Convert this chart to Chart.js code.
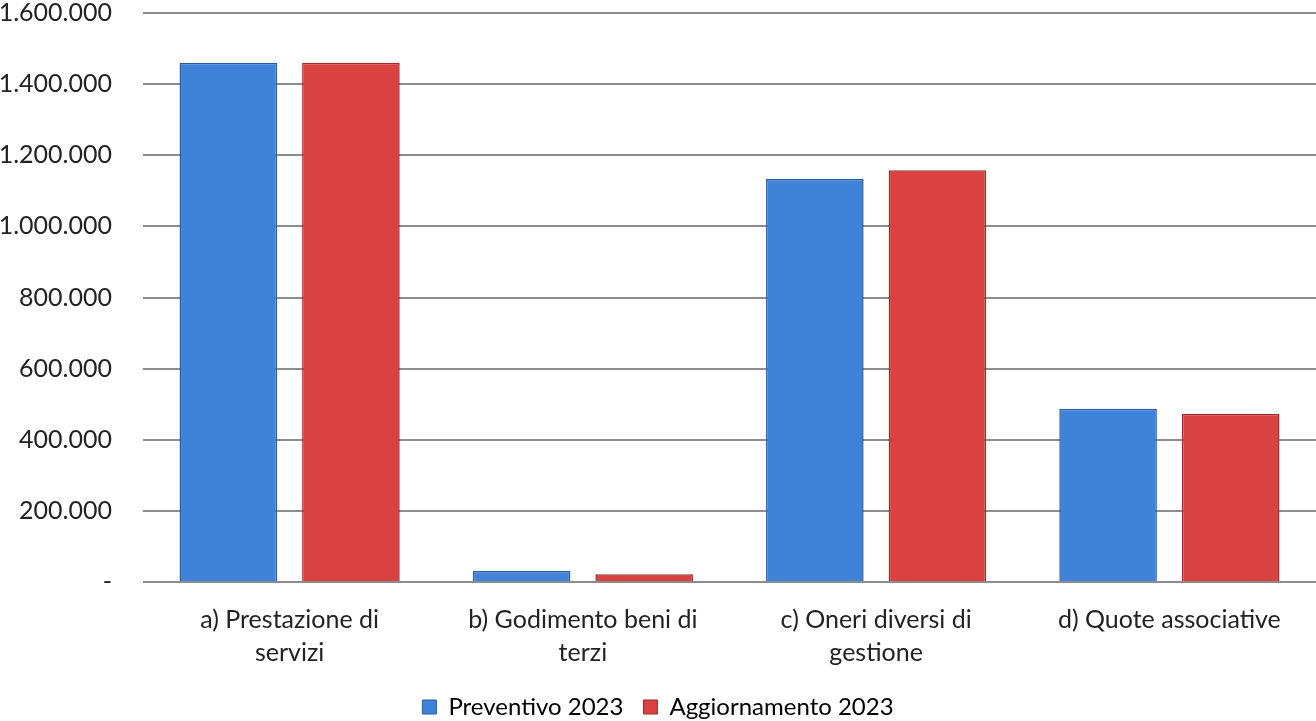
<!DOCTYPE html>
<html>
<head>
<meta charset="utf-8">
<script src="https://cdn.jsdelivr.net/npm/chart.js@4.4.0/dist/chart.umd.min.js"></script>
<style>
  html, body { margin: 0; padding: 0; background: #fff; }
  #wrap { width: 1316px; height: 721px; }
</style>
</head>
<body>
<div id="wrap"><canvas id="costChart"></canvas></div>
<script>
// Data
const categories = [
    ['a) Prestazione di', 'servizi'],
    ['b) Godimento beni di', 'terzi'],
    ['c) Oneri diversi di', 'gestione'],
    'd) Quote associative'
];
const preventivo2023 = [1460000, 31000, 1133000, 487000];
const aggiornamento2023 = [1460000, 22000, 1158000, 473000];
const yTicks = [0, 200000, 400000, 600000, 800000, 1000000, 1200000, 1400000, 1600000];

// thousands with dots, zero shown as a dash
function formatNum(v) {
    if (v === 0) return '-';
    return String(v).replace(/\B(?=(\d{3})+(?!\d))/g, '.');
}

// horizontal shading for each bar
function barFill(light, mid, dark) {
    return (ctx) => {
        const el = ctx.element;
        if (!el || !el.width) return mid;
        const c = ctx.chart.ctx;
        const x0 = el.x - el.width / 2;
        const g = c.createLinearGradient(x0, 0, x0 + el.width, 0);
        g.addColorStop(0, light);
        g.addColorStop(0.5, mid);
        g.addColorStop(1, dark);
        return g;
    };
}

const ctx = document.getElementById('costChart').getContext('2d');
new Chart(ctx, {
    type: 'bar',
    data: {
        labels: categories,
        datasets: [{
            label: 'Preventivo 2023',
            data: preventivo2023,
            backgroundColor: barFill('#3a78d0', '#3f82da', '#3470c2'),
            borderColor: '#2b5b9c',
            borderWidth: 1.5,
            categoryPercentage: 0.836,
            barPercentage: 0.796
        }, {
            label: 'Aggiornamento 2023',
            data: aggiornamento2023,
            backgroundColor: barFill('#d03b3b', '#da4242', '#c43737'),
            borderColor: '#9c2b2b',
            borderWidth: 1.5,
            categoryPercentage: 0.836,
            barPercentage: 0.796
        }]
    },
    options: {
        responsive: true,
        maintainAspectRatio: false,
        animation: false,
        // legend sits a little lower than chart.js would put it
        layout: { padding: { top: 0, left: 0, right: 0, bottom: -8 } },
        plugins: {
            legend: {
                position: 'bottom',
                labels: {
                    boxWidth: 14,
                    boxHeight: 14,
                    padding: 20,
                    color: '#222',
                    font: { family: 'Lato', size: 24 },
                    generateLabels: (chart) => chart.data.datasets.map((ds, i) => ({
                        text: ds.label,
                        fillStyle: i === 0 ? '#3f82da' : '#da4242',
                        strokeStyle: i === 0 ? '#2b5b9c' : '#9c2b2b',
                        lineWidth: 1,
                        datasetIndex: i
                    }))
                }
            },
            tooltip: { enabled: false }
        },
        scales: {
            x: {
                grid: { display: false },
                border: { display: false },
                afterFit: (axis) => { axis.height = 93; },
                ticks: {
                    color: '#222',
                    padding: 13,
                    maxRotation: 0,
                    font: { family: 'Lato', size: 25, lineHeight: 1.32 }
                }
            },
            y: {
                min: 0,
                max: 1600000,
                afterBuildTicks: (axis) => { axis.ticks = yTicks.map(v => ({ value: v })); },
                afterFit: (axis) => {
                    axis.width = 143;
                    axis.paddingTop = 13;
                    axis.paddingBottom = 0;
                },
                grid: { color: '#8c8c8c', lineWidth: 2, drawTicks: false },
                border: { display: false },
                ticks: {
                    color: '#222',
                    padding: 31,
                    font: { family: 'Lato', size: 25 },
                    callback: (v) => formatNum(v)
                }
            }
        }
    }
});
</script>
</body>
</html>
